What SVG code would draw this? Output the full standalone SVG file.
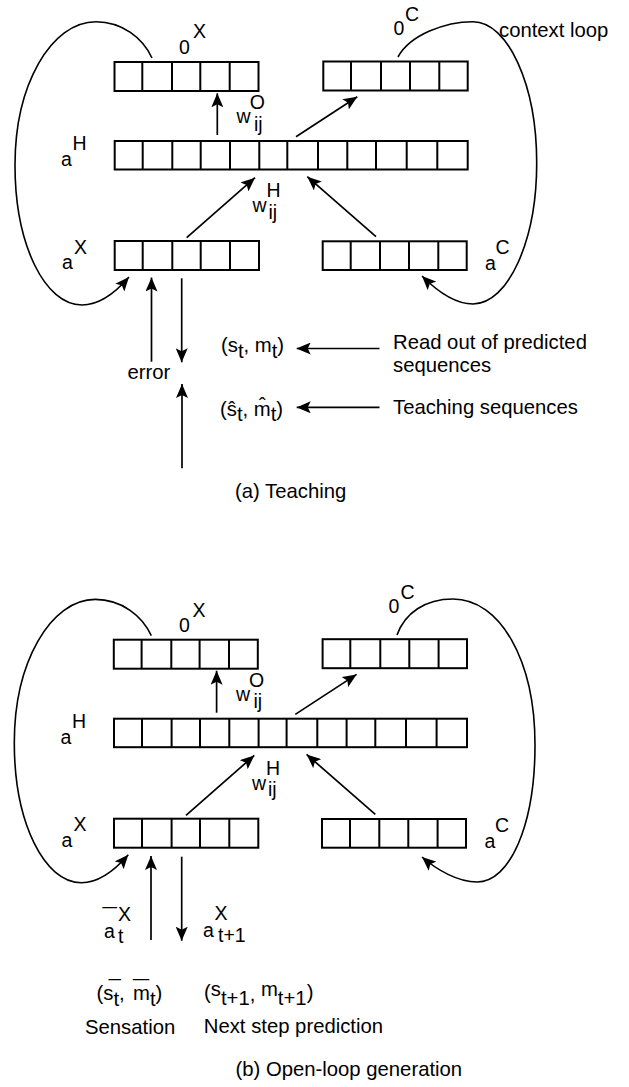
<svg xmlns="http://www.w3.org/2000/svg" width="629" height="1087" viewBox="0 0 629 1087">
<style>
.blk{fill:#fff;stroke:#000;stroke-width:2}
.dv{fill:none;stroke:#000;stroke-width:2}
.ar{fill:none;stroke:#000;stroke-width:1.7;marker-end:url(#ah)}
.lp{fill:none;stroke:#000;stroke-width:1.6;marker-end:url(#ah)}
.l{font-family:"Liberation Sans",Arial,Helvetica,sans-serif;font-size:19.5px;fill:#000}
.t{font-family:"Liberation Sans",Arial,Helvetica,sans-serif;font-size:20.3px;fill:#000}
</style>
<defs>
<marker id="ah" viewBox="0 0 14 12" refX="14" refY="6" markerWidth="14" markerHeight="12" markerUnits="userSpaceOnUse" orient="auto">
<path d="M0,0 L14,6 L0,12 L3,6 z" fill="#000"/>
</marker>
</defs>
<rect width="629" height="1087" fill="#fff"/>

<g id="panel-a">
<g id="a-outX">
<rect class="blk" x="114.5" y="62" width="144" height="29"/>
<path class="dv" d="M142.3,62V91M172,62V91M200.3,62V91M229.7,62V91"/>
<text class="l" x="179" y="54.3">0</text><text class="l" x="193" y="38.3">X</text>
</g>
<g id="a-outC">
<rect class="blk" x="323.3" y="61.5" width="144.4" height="29"/>
<path class="dv" d="M351,61.5V90.5M381,61.5V90.5M410,61.5V90.5M439.3,61.5V90.5"/>
<text class="l" x="393.5" y="34.7">0</text><text class="l" x="405" y="20.7">C</text>
</g>
<g id="a-hidden">
<rect class="blk" x="114.7" y="141" width="353" height="28.5"/>
<path class="dv" d="M142.7,141V169.5M172.3,141V169.5M200.7,141V169.5M230,141V169.5M259.3,141V169.5M287.3,141V169.5M318,141V169.5M347.3,141V169.5M376,141V169.5M406.7,141V169.5M437.3,141V169.5"/>
<text class="l" x="61" y="165.5">a</text><text class="l" x="72.5" y="150">H</text>
</g>
<g id="a-inX">
<rect class="blk" x="114.7" y="241" width="144.3" height="29"/>
<path class="dv" d="M142.7,241V270M172.3,241V270M200.7,241V270M230,241V270"/>
<text class="l" x="62" y="269.3">a</text><text class="l" x="74" y="253.5">X</text>
</g>
<g id="a-inC">
<rect class="blk" x="322.7" y="241.3" width="144" height="28.7"/>
<path class="dv" d="M350.7,241.3V270M380,241.3V270M409,241.3V270M438.3,241.3V270"/>
<text class="l" x="485" y="270">a</text><text class="l" x="495.5" y="254">C</text>
</g>
<g id="a-connectors">
<path class="lp" d="M152,58 C143,38 122,21.7 96,21.7 C51,21.7 15,85 15,165 C15,245 45,305 82,305 C100,305 116,292 129,277"/>
<path class="lp" d="M398,57 C410,35 445,21.7 473,21.7 C508,21.7 536.7,85 536.7,163 C536.7,241 508,304 473,304 C455,304 436,290 422,276"/>
<line class="ar" x1="217.3" y1="135" x2="217.3" y2="93.3"/>
<line class="ar" x1="296" y1="136.7" x2="357.3" y2="96.7"/>
<line class="ar" x1="186.7" y1="237.7" x2="255" y2="177.7"/>
<line class="ar" x1="376" y1="236.7" x2="307.3" y2="176.7"/>
<line class="ar" x1="151.5" y1="361.7" x2="151.5" y2="277.5"/>
<line class="ar" x1="181.7" y1="278.3" x2="181.7" y2="362.3"/>
<line class="ar" x1="182" y1="468.3" x2="182" y2="384"/>
<line class="ar" x1="379.5" y1="348.5" x2="296.7" y2="348.5"/>
<line class="ar" x1="379.5" y1="407.3" x2="296.7" y2="407.3"/>
<text class="l" x="249.7" y="109.3">O</text><text class="l" x="236.5" y="123.3">w</text><text class="l" x="254" y="130.5">ij</text>
<text class="l" x="266.5" y="197">H</text><text class="l" x="252.5" y="212">w</text><text class="l" x="268.5" y="218.5">ij</text>
<text class="t" x="499" y="36.5">context loop</text>
</g>
<g id="a-texts">
<text class="t" x="127.5" y="378.8">error</text>
<text class="t" x="221" y="352">(s<tspan y="357.5">t</tspan><tspan y="352">, m</tspan><tspan y="357.5">t</tspan><tspan y="352">)</tspan></text>
<text class="t" x="220" y="415.5">(ŝ<tspan y="421">t</tspan><tspan y="415.5">, m̂</tspan><tspan y="421">t</tspan><tspan y="415.5">)</tspan></text>
<text class="t" x="393" y="349">Read out of predicted</text>
<text class="t" x="393" y="371.7">sequences</text>
<text class="t" x="393" y="414">Teaching sequences</text>
<text class="t" x="235" y="498">(a) Teaching</text>
</g>
</g>

<g id="panel-b">
<g id="b-outX">
<rect class="blk" x="113.8" y="639.7" width="144" height="29"/>
<path class="dv" d="M141.6,639.7V668.7M171.3,639.7V668.7M199.6,639.7V668.7M229,639.7V668.7"/>
<text class="l" x="179" y="632.3">0</text><text class="l" x="192.5" y="616.5">X</text>
</g>
<g id="b-outC">
<rect class="blk" x="322.6" y="639.2" width="144.4" height="29"/>
<path class="dv" d="M350.3,639.2V668.2M380.3,639.2V668.2M409.3,639.2V668.2M438.6,639.2V668.2"/>
<text class="l" x="388.5" y="613.3">0</text><text class="l" x="400.5" y="598.5">C</text>
</g>
<g id="b-hidden">
<rect class="blk" x="114" y="718.7" width="353" height="28.5"/>
<path class="dv" d="M142,718.7V747.2M171.6,718.7V747.2M200,718.7V747.2M229.3,718.7V747.2M258.6,718.7V747.2M286.6,718.7V747.2M317.3,718.7V747.2M346.6,718.7V747.2M375.3,718.7V747.2M406,718.7V747.2M436.6,718.7V747.2"/>
<text class="l" x="60.5" y="743.5">a</text><text class="l" x="72" y="727.5">H</text>
</g>
<g id="b-inX">
<rect class="blk" x="114" y="818.7" width="144.3" height="29"/>
<path class="dv" d="M142,818.7V847.7M171.6,818.7V847.7M200,818.7V847.7M229.3,818.7V847.7"/>
<text class="l" x="61.5" y="847">a</text><text class="l" x="73.5" y="831">X</text>
</g>
<g id="b-inC">
<rect class="blk" x="322" y="819" width="144" height="28.7"/>
<path class="dv" d="M350,819V847.7M379.3,819V847.7M408.3,819V847.7M437.6,819V847.7"/>
<text class="l" x="484.5" y="847.7">a</text><text class="l" x="495" y="831.7">C</text>
</g>
<g id="b-connectors">
<path class="lp" d="M151.3,635.7 C142.3,615.7 121.3,599.4 95.3,599.4 C50.3,599.4 14.3,662.7 14.3,742.7 C14.3,822.7 44.3,882.7 81.3,882.7 C99.3,882.7 115.3,869.7 128.3,854.7"/>
<path class="lp" d="M397,635 C405,613 425,599 453,599 C500,599 535,660 535,745 C535,825 510,882 477,882 C458,882 437,870 422,857"/>
<line class="ar" x1="216.6" y1="712.7" x2="216.6" y2="670.7"/>
<line class="ar" x1="295.3" y1="714.4" x2="356.6" y2="674.4"/>
<line class="ar" x1="186" y1="815.4" x2="254.3" y2="755.4"/>
<line class="ar" x1="375.3" y1="814.4" x2="306.6" y2="754.4"/>
<line class="ar" x1="151" y1="940" x2="151" y2="856"/>
<line class="ar" x1="181.7" y1="856.7" x2="181.7" y2="940.7"/>
<text class="l" x="249" y="687.2">O</text><text class="l" x="236" y="701">w</text><text class="l" x="253.5" y="708.3">ij</text>
<text class="l" x="266" y="774.8">H</text><text class="l" x="252" y="789.8">w</text><text class="l" x="268" y="796.3">ij</text>
</g>
<g id="b-texts">
<text class="t" x="102.7" y="903.8" textLength="14" lengthAdjust="spacingAndGlyphs">_</text>
<text class="l" x="104" y="938.3">a</text><text class="l" x="118" y="943.3">t</text><text class="l" x="118" y="920.7">X</text>
<text class="l" x="203" y="937.3">a</text><text class="l" x="214.5" y="920">X</text><text class="l" x="218" y="942">t+1</text>
<text class="t" x="108.7" y="975.8" textLength="12" lengthAdjust="spacingAndGlyphs">_</text>
<text class="t" x="133.3" y="975.8" textLength="15.7" lengthAdjust="spacingAndGlyphs">_</text>
<text class="t" x="96.5" y="1000">(s<tspan y="1006">t</tspan><tspan y="1000">,</tspan><tspan x="133" y="1000">m</tspan><tspan y="1006">t</tspan><tspan y="1000">)</tspan></text>
<text class="t" x="204" y="998.5">(<tspan y="996">s</tspan><tspan y="1005">t+1</tspan><tspan y="1001">, </tspan><tspan y="996">m</tspan><tspan y="1005">t+1</tspan><tspan y="998.5">)</tspan></text>
<text class="t" x="85" y="1034">Sensation</text>
<text class="t" x="203.8" y="1033.3">Next step prediction</text>
<text class="t" x="235.5" y="1076">(b) Open-loop generation</text>
</g>
</g>
</svg>
